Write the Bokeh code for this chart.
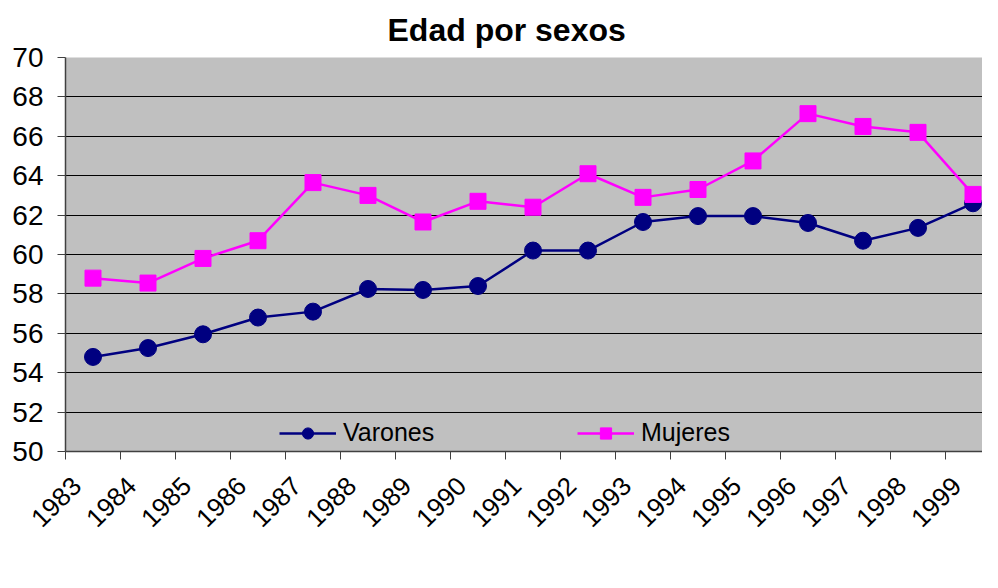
from bokeh.plotting import figure
from bokeh.models import (Range1d, FixedTicker, Legend, LegendItem, ColumnDataSource)
from bokeh.embed import file_html
from bokeh.resources import INLINE
import math

# ---- data ----
years = ["1983", "1984", "1985", "1986", "1987", "1988", "1989", "1990", "1991",
         "1992", "1993", "1994", "1995", "1996", "1997", "1998", "1999"]
varones = [54.8, 55.25, 55.95, 56.8, 57.1, 58.25, 58.2, 58.4, 60.2,
           60.2, 61.65, 61.95, 61.95, 61.6, 60.7, 61.35, 62.6]
mujeres = [58.8, 58.55, 59.8, 60.7, 63.65, 63.0, 61.65, 62.7, 62.4,
           64.1, 62.9, 63.3, 64.75, 67.15, 66.5, 66.2, 63.05]
y_ticks = [50, 52, 54, 56, 58, 60, 62, 64, 66, 68, 70]

FONT = "Liberation Sans"
n = len(years)
xs = [i + 0.5 for i in range(n)]
src = ColumnDataSource(dict(x=xs, v=varones, m=mujeres, year=years))

W = 982
LEFT, TOP = 65, 57
FRAME_W, FRAME_H = W - LEFT, 394
cat_px = 55.0
p = figure(frame_width=FRAME_W, frame_height=FRAME_H,
           output_backend="svg", toolbar_location=None,
           x_range=Range1d(0, FRAME_W / cat_px), y_range=Range1d(50, 70),
           min_border_left=LEFT, min_border_top=TOP, min_border_bottom=0,
           min_border_right=0)

# title
p.title.text = "Edad por sexos"
p.title.text_font = FONT
p.title.text_font_size = "32px"
p.title.text_font_style = "bold"
p.title.text_color = "black"
p.title.align = "left"
p.title.offset = 322
p.title.standoff = 19

p.background_fill_color = "#C0C0C0"
p.border_fill_color = "white"
p.outline_line_color = None

# y axis
p.yaxis.ticker = FixedTicker(ticks=y_ticks)
p.yaxis.major_label_text_font = FONT
p.yaxis.major_label_text_font_size = "28px"
p.yaxis.major_label_text_color = "black"
p.yaxis.major_tick_out = 8
p.yaxis.major_tick_in = 0
p.yaxis.minor_tick_line_color = None
p.yaxis.major_label_standoff = 14
p.yaxis.axis_line_color = "#404040"
p.yaxis.axis_line_width = 1.5
p.yaxis.major_tick_line_color = "#404040"

# grid
p.ygrid.ticker = FixedTicker(ticks=y_ticks)
p.ygrid.grid_line_color = "black"
p.ygrid.grid_line_width = 1
p.xgrid.grid_line_color = None

# x axis: boundary ticks as minor ticks, labels offset left of category centres
offset = 0.3
label_pos = [round(i + 0.5 - offset, 2) for i in range(n)]
p.xaxis.ticker = FixedTicker(ticks=label_pos, minor_ticks=list(range(n + 1)))
p.xaxis.major_label_overrides = {pos: yr for pos, yr in zip(label_pos, years)}
p.xaxis.major_tick_line_color = None
p.xaxis.major_tick_out = 8
p.xaxis.minor_tick_line_color = "#404040"
p.xaxis.minor_tick_out = 8
p.xaxis.minor_tick_in = 0
p.xaxis.major_label_orientation = math.pi / 4
p.xaxis.major_label_text_font = FONT
p.xaxis.major_label_text_font_size = "26px"
p.xaxis.major_label_text_color = "black"
p.xaxis.major_label_standoff = 22
p.xaxis.axis_line_color = "#404040"
p.xaxis.axis_line_width = 1.5

# series
lv = p.line("x", "v", source=src, line_color="#000080", line_width=2.5)
sv = p.scatter("x", "v", source=src, marker="circle", size=17,
               fill_color="#000080", line_color="#000080")
lm = p.line("x", "m", source=src, line_color="#FF00FF", line_width=2.5)
sm = p.scatter("x", "m", source=src, marker="square", size=16,
               fill_color="#FF00FF", line_color="#FF00FF")

legend = Legend(items=[LegendItem(label="Varones", renderers=[lv, sv]),
                       LegendItem(label="Mujeres", renderers=[lm, sm])],
                orientation="horizontal", location=(214, 4),
                glyph_width=57, glyph_height=28, label_standoff=7,
                label_width=127, spacing=107,
                padding=0, margin=0, border_line_color=None,
                background_fill_alpha=0,
                label_text_font=FONT, label_text_font_size="25px",
                label_text_color="black")
p.add_layout(legend)

open("out.html", "w").write(file_html(p, INLINE))
